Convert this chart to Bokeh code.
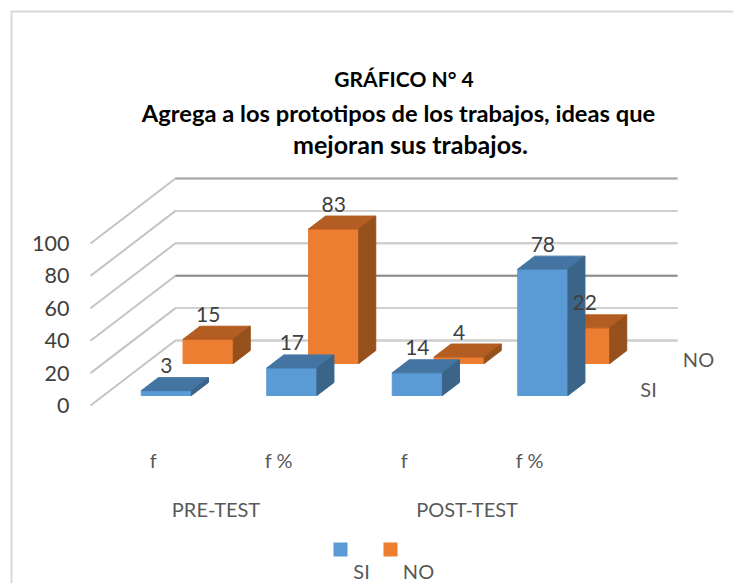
from bokeh.plotting import figure
from bokeh.embed import file_html
from bokeh.resources import INLINE
from bokeh.core.properties import value
from bokeh.models import FixedTicker, Range1d

categories = ["f", "f %", "f", "f %"]
groups = ["PRE-TEST", "POST-TEST"]
si_values = [3, 17, 14, 78]
no_values = [15, 83, 4, 22]
y_ticks = [0, 20, 40, 60, 80, 100]
title_lines = ["GRÁFICO N° 4",
               "Agrega a los prototipos de los trabajos, ideas que",
               "mejoran sus trabajos."]

W, H = 733, 583
CAT_PX = 125.5                    # one category, pixels
VAL_PX = 1.62                     # one value unit, pixels
ORIGIN_X, ORIGIN_Y = 90, 405      # page pixel of the front-left axis foot
DX, DY = 85 / CAT_PX, 65 / VAL_PX  # whole depth, in data units
BAR_W = 0.4
ROWS = {"si": (0.154, 0.354), "no": (0.646, 0.846)}


def px_x(x):
    return (x - ORIGIN_X) / CAT_PX


def px_y(y):
    return (ORIGIN_Y - y) / VAL_PX


FONT = value("Lato")
p = figure(width=W, height=H, output_backend="svg", toolbar_location=None,
           x_range=Range1d(px_x(0), px_x(W)),
           y_range=Range1d(px_y(H), px_y(0)),
           min_border=0, background_fill_color="white", border_fill_color="white",
           outline_line_color=None)
p.grid.visible = False

# chart frame (only the top and left edges are visible)
p.line([px_x(11), px_x(11), px_x(W)], [px_y(H), px_y(11), px_y(11)],
       line_color="#D9D9D9", line_width=2)

# axes
ya = p.yaxis[0]
ya.fixed_location = 0
ya.ticker = FixedTicker(ticks=y_ticks)
ya.bounds = (0, 100)
ya.axis_line_color = None
ya.major_tick_line_color = None
ya.minor_tick_line_color = None
ya.major_label_standoff = 15
ya.major_label_text_font = "Lato"
ya.major_label_text_font_size = "21.5px"
ya.major_label_text_color = "#404040"

cat_pos = [i + 0.5 for i in range(len(categories))]
xa = p.xaxis[0]
xa.fixed_location = px_y(441)
xa.ticker = FixedTicker(ticks=cat_pos)
xa.major_label_overrides = {c: l for c, l in zip(cat_pos, categories)}
xa.axis_line_color = None
xa.major_tick_line_color = None
xa.minor_tick_line_color = None
xa.major_label_standoff = 0
xa.major_label_text_font = "Lato"
xa.major_label_text_font_size = "20px"
xa.major_label_text_color = "#595959"

# walls
n_cat = len(categories)
for v in y_ticks:
    dark = {40: "#8C8C8C", 100: "#ABABAB"}.get(v, "#CFCFCF")
    p.line([0, DX, n_cat + DX], [v, v + DY, v + DY], line_color="#C4C4C4",
           line_width=2)
    p.line([DX, n_cat + DX], [v + DY, v + DY], line_color=dark, line_width=2)


def faces(i, val, row):
    d0, d1 = ROWS[row]
    x0 = i + 0.5 - BAR_W / 2 + d0 * DX
    x1 = x0 + BAR_W
    sx = (d1 - d0) * DX
    y0 = d0 * DY
    sy = (d1 - d0) * DY
    front = ([x0, x1, x1, x0], [y0, y0, y0 + val, y0 + val])
    top = ([x0, x1, x1 + sx, x0 + sx],
           [y0 + val, y0 + val, y0 + val + sy, y0 + val + sy])
    side = ([x1, x1 + sx, x1 + sx, x1],
            [y0, y0 + sy, y0 + val + sy, y0 + val])
    return front, top, side


def draw_row(vals, row, colors):
    for i, val in enumerate(vals):
        for (xs, ys), col in zip(faces(i, val, row), colors):
            p.patch(xs, ys, fill_color=col, line_color=col, line_width=1)


draw_row(no_values, "no", ("#ED7D31", "#B35D23", "#95501C"))
draw_row(si_values, "si", ("#5B9BD5", "#4475A2", "#3B6489"))

# data labels
for vals, row in ((no_values, "no"), (si_values, "si")):
    d0 = ROWS[row][0]
    p.text([i + 0.5 + d0 * DX for i in range(n_cat)],
           [d0 * DY + v for v in vals], text=[str(v) for v in vals],
           y_offset=-25, text_align="center", text_baseline="middle",
           text_font=FONT, text_font_size="21px", text_color="#404040")

# group labels
p.text([1, 3], [px_y(508)] * 2, text=groups, text_align="center",
       text_baseline="middle", text_font=FONT, text_font_size="20px",
       text_color="#595959")

# series labels at the depth axis
p.text([px_x(648), px_x(698)], [px_y(388), px_y(358)], text=["SI", "NO"],
       text_align="center", text_baseline="middle", text_font=FONT,
       text_font_size="20px", text_color="#595959")

# title
for line, cx, cy, size in zip(title_lines, (403.5, 398, 410), (78, 112, 143),
                              ("21px", "23.7px", "25px")):
    p.text([px_x(cx)], [px_y(cy)], text=[line], text_align="center",
           text_baseline="middle", text_font=FONT, text_font_size=size,
           text_font_style="bold", text_color="#000000")

# legend
p.scatter([px_x(340), px_x(390)], [px_y(549)] * 2, marker="square", size=14,
          fill_color=["#5B9BD5", "#ED7D31"], line_color=None)
p.text([px_x(361), px_x(418)], [px_y(570)] * 2, text=["SI", "NO"],
       text_align="center", text_baseline="middle", text_font=FONT,
       text_font_size="20px", text_color="#595959")

open("out.html", "w").write(file_html(p, INLINE))
